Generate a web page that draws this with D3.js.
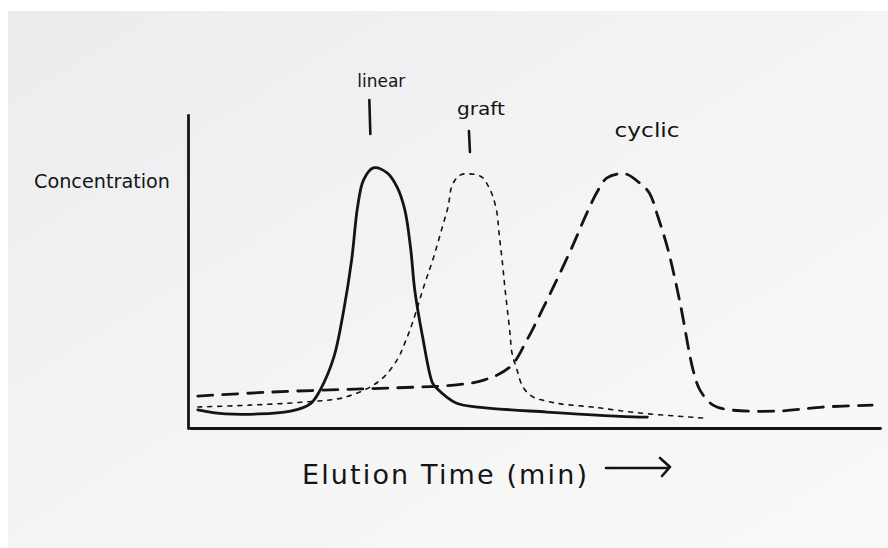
<!DOCTYPE html>
<html>
<head>
<meta charset="utf-8">
<script src="https://cdn.jsdelivr.net/npm/d3@7/dist/d3.min.js"></script>
<style>
  html, body { margin: 0; padding: 0; background: #ffffff; }
  svg { display: block; }
  text { font-family: "DejaVu Sans", "Liberation Sans", sans-serif; fill: #141414; }
</style>
</head>
<body>
<svg id="chart" width="888" height="548"></svg>
<script>
// Elution time (min) and concentration (relative units) for each polymer architecture
const linearTime = [0.4, 1.8, 5.1, 6.1, 6.6, 7.3, 7.8, 8.2, 8.5, 8.8, 9.3, 10.0, 10.5, 10.9, 11.2, 11.4, 11.8, 12.3, 12.5, 13.5, 14.6, 18.1, 22.8, 23.2];
const linearConc = [5.8, 4.5, 5.4, 7.7, 12.1, 22.7, 37.7, 53.7, 70.6, 79.2, 83.1, 81.5, 77.0, 69.6, 56.9, 44.1, 29.1, 14.4, 12.8, 8.0, 6.7, 5.1, 3.5, 3.5];

const graftTime = [0.4, 3.0, 5.8, 7.9, 9.6, 10.5, 10.9, 11.3, 11.9, 12.3, 12.8, 13.1, 13.3, 13.7, 14.2, 14.8, 15.1, 15.37, 15.57, 15.67, 15.86, 15.97, 16.10, 16.24, 16.33, 16.59, 16.89, 17.4, 18.1, 18.8, 20.4, 22.8, 26.0];
const graftConc = [6.7, 7.3, 8.3, 9.9, 15.0, 21.7, 27.2, 33.9, 46.0, 53.4, 64.2, 70.9, 77.6, 80.8, 81.2, 80.2, 77.6, 73.8, 68.7, 62.6, 52.1, 45.0, 37.7, 29.7, 24.0, 18.5, 13.1, 9.9, 8.6, 7.7, 6.7, 4.8, 3.2];

const cyclicTime = [0.4, 4.2, 8.8, 11.6, 13.4, 14.9, 16.23, 17.09, 17.91, 18.67, 19.43, 20.09, 20.65, 21.15, 22.07, 22.8, 23.3, 23.74, 24.25, 24.86, 25.52, 25.87, 26.53, 27.4, 29.8, 32.1, 34.6];
const cyclicConc = [10.2, 11.5, 12.5, 13.1, 13.7, 15.3, 19.5, 28.1, 38.3, 48.2, 58.5, 68.1, 75.4, 79.9, 81.2, 78.3, 75.1, 67.4, 56.9, 39.9, 18.5, 12.1, 7.3, 5.8, 5.4, 6.7, 7.3];

const seriesNames = ["linear", "graft", "cyclic"];
const xAxisTitle = "Elution Time (min)";
const yAxisTitle = "Concentration";

const svg = d3.select("#chart");

// paper sheet
const defs = svg.append("defs");
const grad = defs.append("linearGradient")
  .attr("id", "paper").attr("x1", "0").attr("y1", "0").attr("x2", "1").attr("y2", "1");
grad.append("stop").attr("offset", "0").attr("stop-color", "#ebecee");
grad.append("stop").attr("offset", "0.5").attr("stop-color", "#f4f4f5");
grad.append("stop").attr("offset", "1").attr("stop-color", "#f9f9f9");
svg.append("rect").attr("x", 8).attr("y", 11).attr("width", 880).attr("height", 537)
  .attr("fill", "url(#paper)");

const x = d3.scaleLinear().domain([0, 35]).range([190, 880]);
const y = d3.scaleLinear().domain([0, 100]).range([428, 115]);

const ink = "#141414";

// axes without ticks
const xAxis = svg.append("g").attr("transform", `translate(0,${y(0)})`)
  .call(d3.axisBottom(x).tickValues([]).tickSizeOuter(0));
const yAxis = svg.append("g").attr("transform", `translate(${x(0) - 2},0)`)
  .call(d3.axisLeft(y).tickValues([]).tickSizeOuter(0));
[xAxis, yAxis].forEach(g => g.select(".domain")
  .attr("stroke", ink).attr("stroke-width", 2.8).attr("stroke-linecap", "round"));

const line = d3.line()
  .x(d => x(d[0])).y(d => y(d[1]))
  .curve(d3.curveCatmullRom.alpha(0.5));

const series = [
  { name: seriesNames[0], time: linearTime, conc: linearConc, width: 2.8, dash: null },
  { name: seriesNames[1], time: graftTime, conc: graftConc, width: 1.6, dash: "4,6" },
  { name: seriesNames[2], time: cyclicTime, conc: cyclicConc, width: 2.8, dash: "15,10" }
];

series.forEach(s => {
  const pts = s.time.map((t, i) => [t, s.conc[i]]);
  svg.append("path")
    .datum(pts)
    .attr("d", line)
    .attr("fill", "none")
    .attr("stroke", ink)
    .attr("stroke-width", s.width)
    .attr("stroke-linecap", "round")
    .attr("stroke-linejoin", "round")
    .attr("stroke-dasharray", s.dash);
});

// peak labels with pointer strokes
const peakOf = s => {
  const i = d3.maxIndex(s.conc);
  return { t: s.time[i], c: s.conc[i] };
};
const labelLayout = [
  { dx: 8, labelY: 87, tick: [100, 134], tickDx: -4, len: 48, size: 17 },
  { dx: 11, labelY: 115, tick: [131, 152], tickDx: -1, len: 48, size: 17 },
  { dx: 22, labelY: 137, tick: null, tickDx: 0, len: 65, size: 19 }
];
series.forEach((s, i) => {
  const p = peakOf(s);
  const L = labelLayout[i];
  const px = x(p.t);
  svg.append("text")
    .attr("x", px + L.dx).attr("y", L.labelY)
    .attr("text-anchor", "middle")
    .attr("font-size", L.size)
    .attr("textLength", L.len).attr("lengthAdjust", "spacingAndGlyphs")
    .text(s.name);
  if (L.tick) {
    svg.append("line")
      .attr("x1", px + L.tickDx).attr("x2", px + L.tickDx + 1)
      .attr("y1", L.tick[0]).attr("y2", L.tick[1])
      .attr("stroke", ink).attr("stroke-width", 2.6).attr("stroke-linecap", "round");
  }
});

// axis titles
svg.append("text")
  .attr("x", 34).attr("y", 188)
  .attr("font-size", 20)
  .attr("textLength", 136).attr("lengthAdjust", "spacingAndGlyphs")
  .text(yAxisTitle);

svg.append("text")
  .attr("x", 302).attr("y", 484)
  .attr("font-size", 27)
  .attr("textLength", 285).attr("lengthAdjust", "spacing")
  .text(xAxisTitle);

// direction arrow after the x title
const arrow = d3.path();
arrow.moveTo(606, 468); arrow.lineTo(669, 468);
arrow.moveTo(660, 458); arrow.lineTo(670, 467); arrow.lineTo(662, 476);
svg.append("path").attr("d", arrow.toString())
  .attr("fill", "none").attr("stroke", ink).attr("stroke-width", 2.6)
  .attr("stroke-linecap", "round").attr("stroke-linejoin", "round");
</script>
</body>
</html>
